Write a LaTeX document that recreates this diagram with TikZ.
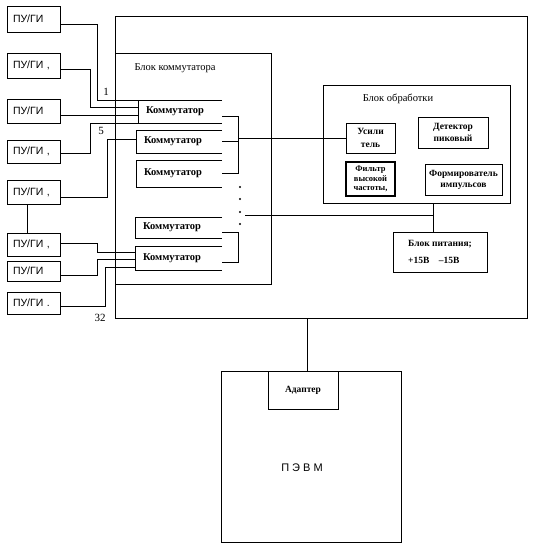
\documentclass[tikz,border=0pt]{standalone}
\usepackage{fontspec}
\setmainfont{Liberation Serif}
\newfontfamily\sansf{Liberation Sans}
\begin{document}
\begin{tikzpicture}[x=1pt,y=-1pt,
  every node/.style={inner sep=0pt, outer sep=0pt},
  ln/.style={line width=0.9pt},
  box/.style={draw, line width=0.9pt, rectangle, anchor=north west},
  pu/.style={box, minimum width=53pt, text width=41pt, inner xsep=6pt, align=left,
             font=\sansf\fontsize{10.5}{12}\selectfont},
  kom/.style={rectangle, anchor=north west, inner xsep=8pt, align=left,
              font=\bfseries\fontsize{10.5}{12}\selectfont},
  comp/.style={box, align=center, font=\bfseries\fontsize{9.5}{12.5}\selectfont},
  ttl/.style={font=\fontsize{10.5}{12}\selectfont},
  num/.style={font=\fontsize{11}{12}\selectfont}]
\useasboundingbox (0,0) rectangle (535,548);

% outer frames
\node[box, minimum width=412pt, minimum height=302pt] (outer) at (115,16) {};
\node[box, minimum width=156pt, minimum height=231pt] (kb) at (115,53) {};
\node[ttl] (kbt) at (175,68) {Блок коммутатора};

% input units
\node[pu, minimum height=26pt] (p1) at (7,6) {ПУ/ГИ};
\node[pu, minimum height=25pt] (p2) at (7,53) {ПУ/ГИ ,};
\node[pu, minimum height=24pt] (p3) at (7,99) {ПУ/ГИ};
\node[pu, minimum height=23pt] (p4) at (7,140) {ПУ/ГИ ,};
\node[pu, minimum height=24pt] (p5) at (7,180) {ПУ/ГИ ,};
\node[pu, minimum height=23pt] (p6) at (7,233) {ПУ/ГИ ,};
\node[pu, minimum height=20pt] (p7) at (7,261) {ПУ/ГИ};
\node[pu, minimum height=22pt] (p8) at (7,292) {ПУ/ГИ .};

% commutators (open on the right)
\node[kom, text width=68pt, minimum height=23pt] (k1) at (138,100) {Коммутатор};
\node[kom, text width=70pt, minimum height=23pt] (k2) at (136,130) {Коммутатор};
\node[kom, text width=70pt, minimum height=27pt] (k3) at (136,160) {Коммутатор};
\node[kom, text width=71pt, minimum height=21pt] (k4) at (135,217) {Коммутатор};
\node[kom, text width=71pt, minimum height=24pt] (k5) at (135,246) {Коммутатор};
\foreach \k in {k1,k2,k3,k4,k5}
  \draw[ln] (\k.north east) -- (\k.north west) -- (\k.south west) -- (\k.south east);

% processing block
\node[box, minimum width=187pt, minimum height=118pt] (obr) at (323,85) {};
\node[ttl] (obrt) at (398,99) {Блок обработки};
\node[comp, minimum width=49pt, minimum height=30pt] (us) at (346,123) {Усили\\тель};
\node[comp, minimum width=70pt, minimum height=31pt] (det) at (418,117) {Детектор\\пиковый};
\node[comp, line width=1.6pt, minimum width=49pt, minimum height=34pt,
      font=\bfseries\fontsize{8.5}{9.5}\selectfont] (fil) at (346,162) {Фильтр\\высокой\\частоты,};
\node[comp, minimum width=77pt, minimum height=31pt,
      font=\bfseries\fontsize{9.5}{11}\selectfont] (form) at (425,164) {Формирователь\\импульсов};

% power supply
\node[comp, minimum width=94pt, minimum height=40pt, align=left,
      font=\bfseries\fontsize{9.5}{17}\selectfont] (pit) at (393,232) {Блок питания;\\+15В\quad –15В};

% computer
\node[box, minimum width=180pt, minimum height=171pt] (pc) at (221,371) {};
\node[comp, minimum width=70pt, minimum height=38pt, font=\bfseries\fontsize{9.5}{11}\selectfont] (ad) at (268,371) {Адаптер};
\node[font=\sansf\fontsize{11}{12}\selectfont] (pct) at (302,468) {П Э В М};

% inputs to commutators
\draw[ln] ([yshift=-5pt]p1.east) -| (97,100) -- (k1.north west);
\draw[ln] ([yshift=-3.5pt]p2.east) -| (90,107) -- (k1.west |- 0,107);
\draw[ln] ([yshift=-4pt]p3.east) -- (k1.west |- 0,115);
\draw[ln] ([yshift=-1.5pt]p4.east) -| (90,123) -- (k1.south west);
\draw[ln] ([yshift=-5pt]p5.east) -| (107,139) -- (k2.west |- 0,139);
\draw[ln] ([yshift=1.5pt]p6.east) -| (97,252) -- (k5.west |- 0,252);
\draw[ln] ([yshift=-4pt]p7.east) -| (97,259) -- (k5.west |- 0,259);
\draw[ln] ([yshift=-3pt]p8.east) -| (105,267) -- (k5.west |- 0,267);
\draw[ln] ([xshift=-6.5pt]p5.south) -- ([xshift=-6.5pt]p6.north);

\node[num] (l1) at (106,92) {1};
\node[num] (l5) at (101,131) {5};
\node[num] (l32) at (100,318) {32};

% brackets on the commutator outputs
\coordinate (bA) at (238,116);
\coordinate (bB) at (238,173);
\coordinate (bC) at (238,138);
\draw[ln] (k1.east |- bA) -- (bA) -- (bB) -- (k3.east |- bB);
\draw[ln] (k2.east) -- (k2.east -| bA);
\draw[ln] (bC) -- (us.west);
\coordinate (bD) at (238,232);
\coordinate (bE) at (238,262);
\draw[ln] (k4.east |- bD) -- (bD) -- (bE) -- (k5.east |- bE);
\foreach \y in {187,199,212,224} \fill (240,\y) circle (1.1pt);

% power bus
\coordinate (pw) at (245,215);
\coordinate (pj) at (433,215);
\draw[ln] (pw) -- (pj);
\draw[ln] (obr.south -| pj) -- (pit.north -| pj);

% link to computer
\draw[ln] (outer.south -| 307,0) -- (pc.north -| 307,0);
\end{tikzpicture}
\end{document}
